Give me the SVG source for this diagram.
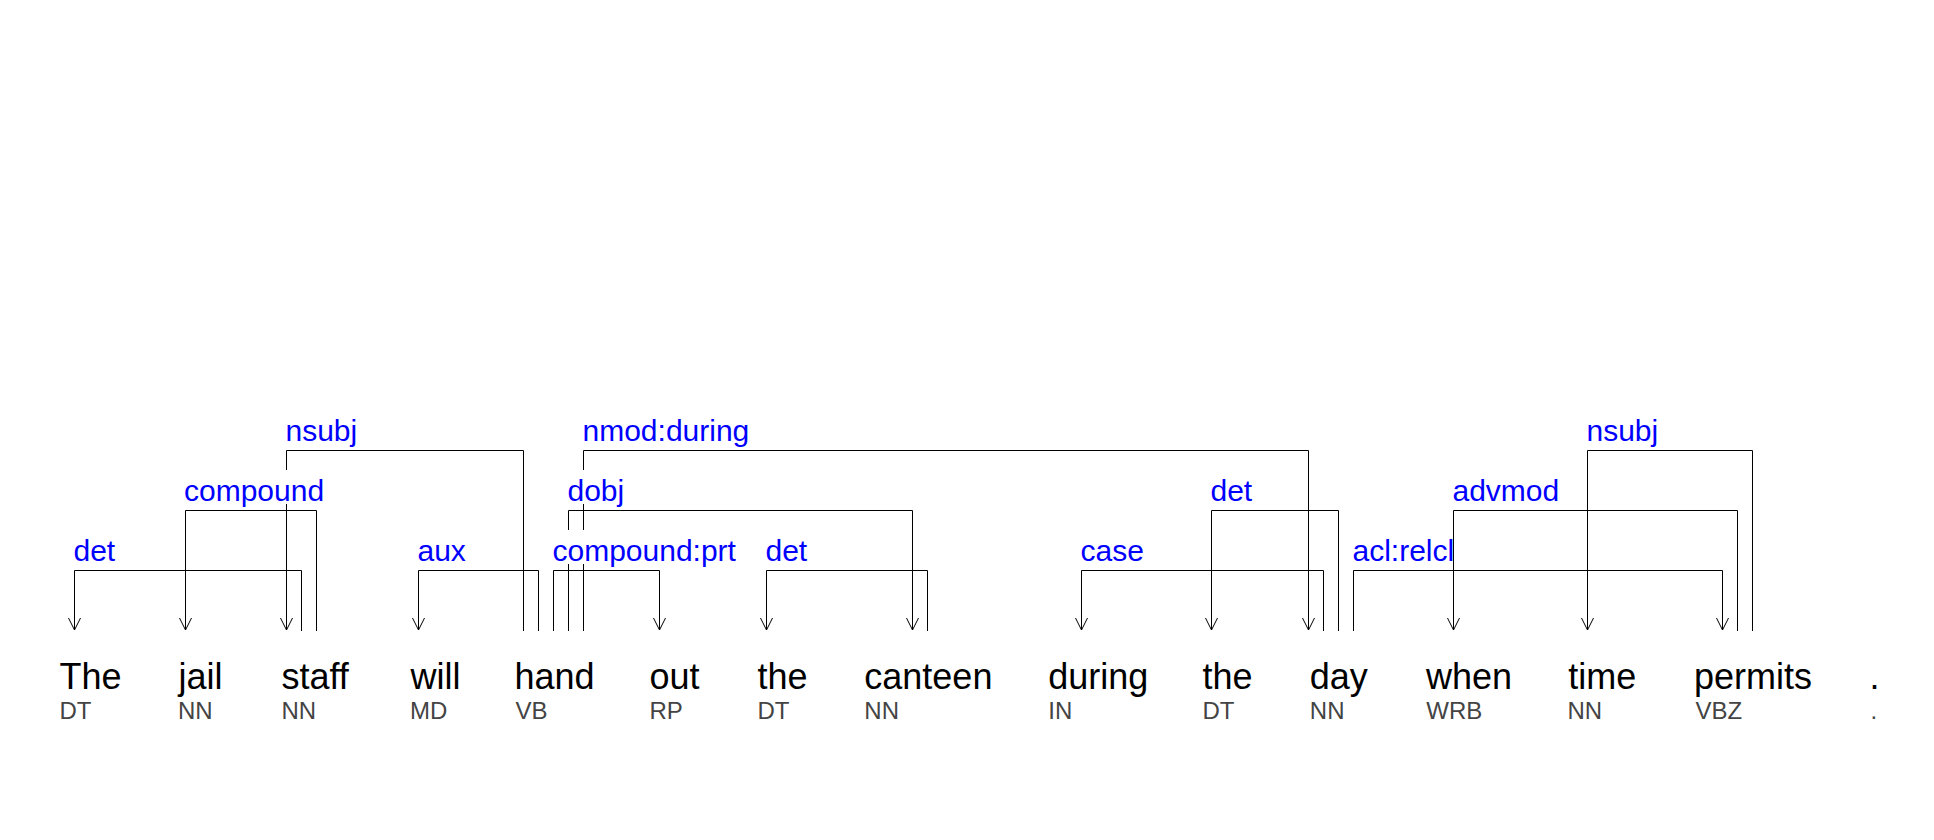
<svg xmlns="http://www.w3.org/2000/svg" width="1934" height="840" viewBox="0 0 1934 840">
<style>
.w{font-family:"Liberation Sans",Arial,sans-serif;font-size:36px;fill:#000}
.t{font-family:"Liberation Sans",Arial,sans-serif;font-size:24px;fill:#444}
.l{font-family:"Liberation Sans",Arial,sans-serif;font-size:30px;fill:#0000ff}
.e{fill:none;stroke:#000;stroke-width:1}
.bg{fill:#fff}
</style>
<defs>
<marker id="ah" viewBox="-7 -13 14 14" refX="0" refY="0" markerWidth="14" markerHeight="14" markerUnits="userSpaceOnUse" orient="0">
<path d="M-6,-12 L0,0 L6,-12" fill="none" stroke="#000" stroke-width="1"/>
</marker>
</defs>
<rect width="1934" height="840" fill="#fff"/>
<g id="connectors">
<path class="e" d="M301.5,631 V570.5 H74.5 V630" marker-end="url(#ah)"/>
<path class="e" d="M316.5,631 V510.5 H185.5 V630" marker-end="url(#ah)"/>
<path class="e" d="M523.5,631 V450.5 H286.5 V630" marker-end="url(#ah)"/>
<path class="e" d="M538.5,631 V570.5 H418.5 V630" marker-end="url(#ah)"/>
<path class="e" d="M553.5,631 V570.5 H659.5 V630" marker-end="url(#ah)"/>
<path class="e" d="M568.5,631 V510.5 H912.5 V630" marker-end="url(#ah)"/>
<path class="e" d="M583.5,631 V450.5 H1308.5 V630" marker-end="url(#ah)"/>
<path class="e" d="M927.5,631 V570.5 H766.5 V630" marker-end="url(#ah)"/>
<path class="e" d="M1323.5,631 V570.5 H1081.5 V630" marker-end="url(#ah)"/>
<path class="e" d="M1338.5,631 V510.5 H1211.5 V630" marker-end="url(#ah)"/>
<path class="e" d="M1353.5,631 V570.5 H1722.5 V630" marker-end="url(#ah)"/>
<path class="e" d="M1737.5,631 V510.5 H1453.5 V630" marker-end="url(#ah)"/>
<path class="e" d="M1752.5,631 V450.5 H1587.5 V630" marker-end="url(#ah)"/>
</g>
<g id="labels">
<g id="lbl-det1"><rect class="bg" x="74" y="530" width="40" height="34"/><text class="l" x="73.5" y="560.5">det</text></g>
<g id="lbl-compound"><rect class="bg" x="185" y="470" width="138" height="34"/><text class="l" x="184" y="500.5">compound</text></g>
<g id="lbl-nsubj1"><rect class="bg" x="286" y="410" width="70" height="34"/><text class="l" x="285.5" y="440.5">nsubj</text></g>
<g id="lbl-aux"><rect class="bg" x="418" y="530" width="46" height="34"/><text class="l" x="417.5" y="560.5">aux</text></g>
<g id="lbl-compoundprt"><rect class="bg" x="553" y="530" width="183" height="34"/><text class="l" x="552.5" y="560.5">compound:prt</text></g>
<g id="lbl-dobj"><rect class="bg" x="568" y="470" width="56" height="34"/><text class="l" x="567.5" y="500.5">dobj</text></g>
<g id="lbl-nmod"><rect class="bg" x="583" y="410" width="165" height="34"/><text class="l" x="582.5" y="440.5">nmod:during</text></g>
<g id="lbl-det2"><rect class="bg" x="766" y="530" width="40" height="34"/><text class="l" x="765.5" y="560.5">det</text></g>
<g id="lbl-case"><rect class="bg" x="1081" y="530" width="61" height="34"/><text class="l" x="1080.5" y="560.5">case</text></g>
<g id="lbl-det3"><rect class="bg" x="1211" y="470" width="40" height="34"/><text class="l" x="1210.5" y="500.5">det</text></g>
<g id="lbl-aclrelcl"><rect class="bg" x="1353" y="530" width="97" height="34"/><text class="l" x="1352.5" y="560.5">acl:relcl</text></g>
<g id="lbl-advmod"><rect class="bg" x="1453" y="470" width="104" height="34"/><text class="l" x="1452.5" y="500.5">advmod</text></g>
<g id="lbl-nsubj2"><rect class="bg" x="1587" y="410" width="70" height="34"/><text class="l" x="1586.5" y="440.5">nsubj</text></g>
</g>
<g id="w1"><text class="w" x="59.5" y="689">The</text><text class="t" x="59.5" y="719.3">DT</text></g>
<g id="w2"><text class="w" x="178.5" y="689">jail</text><text class="t" x="178" y="719.3">NN</text></g>
<g id="w3"><text class="w" x="281.4" y="689">staff</text><text class="t" x="281.4" y="719.3">NN</text></g>
<g id="w4"><text class="w" x="410.5" y="689">will</text><text class="t" x="410" y="719.3">MD</text></g>
<g id="w5"><text class="w" x="514.5" y="689">hand</text><text class="t" x="515.5" y="719.3">VB</text></g>
<g id="w6"><text class="w" x="649.5" y="689">out</text><text class="t" x="649.5" y="719.3">RP</text></g>
<g id="w7"><text class="w" x="757.5" y="689">the</text><text class="t" x="757.5" y="719.3">DT</text></g>
<g id="w8"><text class="w" x="864.3" y="689">canteen</text><text class="t" x="864.3" y="719.3">NN</text></g>
<g id="w9"><text class="w" x="1048.3" y="689">during</text><text class="t" x="1048.3" y="719.3">IN</text></g>
<g id="w10"><text class="w" x="1202.5" y="689">the</text><text class="t" x="1202.5" y="719.3">DT</text></g>
<g id="w11"><text class="w" x="1309.8" y="689">day</text><text class="t" x="1309.8" y="719.3">NN</text></g>
<g id="w12"><text class="w" x="1426" y="689">when</text><text class="t" x="1426.3" y="719.3">WRB</text></g>
<g id="w13"><text class="w" x="1568.3" y="689">time</text><text class="t" x="1567.5" y="719.3">NN</text></g>
<g id="w14"><text class="w" x="1694" y="689">permits</text><text class="t" x="1695.5" y="719.3">VBZ</text></g>
<g id="w15"><text class="w" x="1869.5" y="689">.</text><text class="t" x="1870.5" y="719.3">.</text></g>
</svg>
